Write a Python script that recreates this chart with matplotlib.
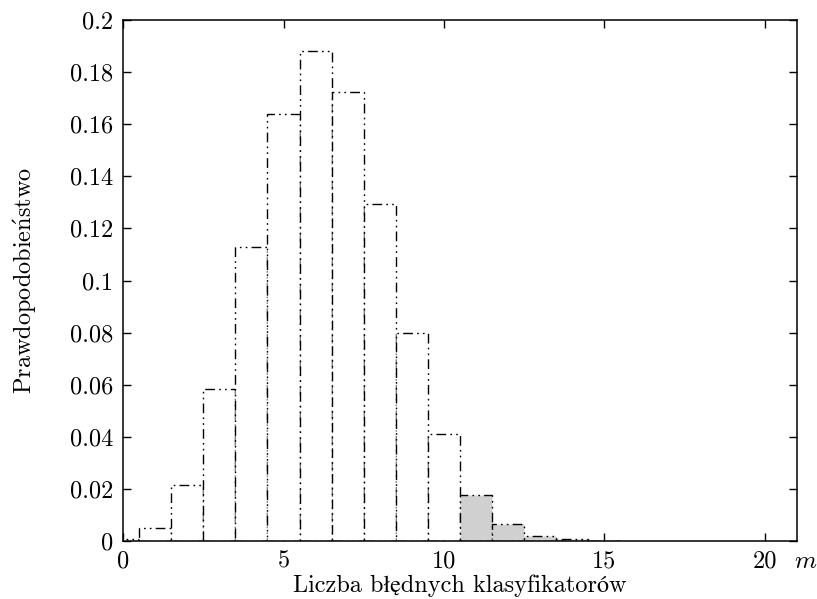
import matplotlib
matplotlib.use("Agg")
import matplotlib.pyplot as plt

plt.rcParams['font.family'] = ['cmr10', 'STIXGeneral', 'DejaVu Serif']
plt.rcParams['mathtext.fontset'] = 'cm'
plt.rcParams['axes.formatter.use_mathtext'] = True

# data
m_values = list(range(0, 22))
probabilities = [0.0006, 0.005, 0.0215, 0.0585, 0.113, 0.164, 0.188, 0.1725,
                 0.1295, 0.080, 0.041, 0.0176, 0.0064, 0.0020, 0.0006, 0.0001,
                 0.0, 0.0, 0.0, 0.0, 0.0, 0.0]
shade_from = 11
x_ticks = [0, 5, 10, 15, 20]
x_tick_labels = ['0', '5', '10', '15', '20']
y_ticks = [0, 0.02, 0.04, 0.06, 0.08, 0.1, 0.12, 0.14, 0.16, 0.18, 0.2]
y_tick_labels = ['0', '0.02', '0.04', '0.06', '0.08', '0.1', '0.12', '0.14', '0.16', '0.18', '0.2']
x_label = 'Liczba błędnych klasyfikatorów'
y_label = 'Prawdopodobie$\\mathrm{\\acute{n}}$stwo'
x_var = '$m$'

fig = plt.figure(figsize=(8.17, 5.99), dpi=100)
ax = fig.add_axes([0.1506, 0.0968, 0.8249, 0.8698])

ls = (0, (7, 3, 1.2, 3, 1.2, 3))
for m, p in zip(m_values, probabilities):
    if p <= 0:
        continue
    fc = '#d0d0d0' if m >= shade_from else 'white'
    ax.bar(m, p, width=1.0, align='center', facecolor=fc, edgecolor='black',
           linewidth=1.0, linestyle=ls, zorder=2)

ax.set_xlim(0, 21)
ax.set_ylim(0, 0.2)
ax.set_xticks(x_ticks)
ax.set_xticklabels(x_tick_labels)
ax.set_yticks(y_ticks)
ax.set_yticklabels(y_tick_labels)
ax.tick_params(direction='in', length=6, width=1, top=True, right=True,
               labelsize=17.5, pad=7)
for s in ax.spines.values():
    s.set_linewidth(1.1)
    s.set_zorder(5)

ax.set_xlabel(x_label, fontsize=17.5, labelpad=1)
ax.set_ylabel(y_label, fontsize=17.5, labelpad=22)

ax.annotate(x_var, xy=(1.013, 0), xycoords='axes fraction', xytext=(0, -7),
            textcoords='offset points', ha='center', va='top', fontsize=18,
            annotation_clip=False)

fig.savefig('out.png', dpi=100)
